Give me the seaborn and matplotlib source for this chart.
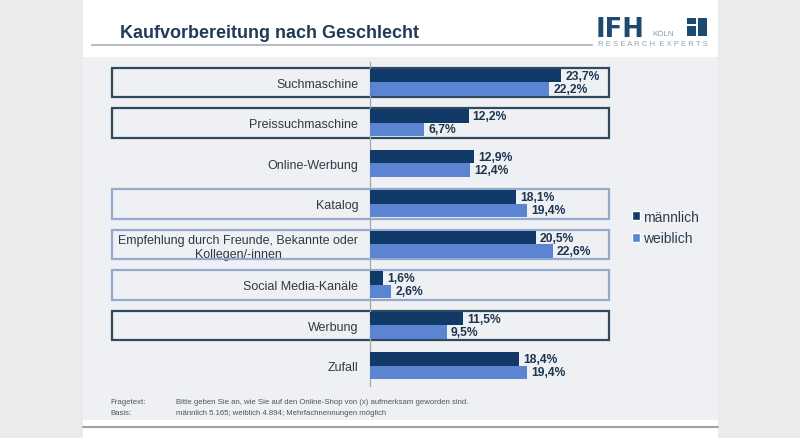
import numpy as np
import pandas as pd
import matplotlib
matplotlib.use("Agg")
import matplotlib.pyplot as plt
import seaborn as sns
from matplotlib.patches import Rectangle, Patch
from matplotlib.transforms import blended_transform_factory

categories = [
    "Suchmaschine",
    "Preissuchmaschine",
    "Online-Werbung",
    "Katalog",
    "Empfehlung durch Freunde, Bekannte oder\nKollegen/-innen",
    "Social Media-Kanäle",
    "Werbung",
    "Zufall",
]
maennlich = [23.7, 12.2, 12.9, 18.1, 20.5, 1.6, 11.5, 18.4]
weiblich = [22.2, 6.7, 12.4, 19.4, 22.6, 2.6, 9.5, 19.4]
series_names = ["männlich", "weiblich"]

# box around category row: "dark", "light" or None
box_styles = ["dark", "dark", None, "light", "light", "light", "dark", None]

W, H = 800, 439
MALE = "#113a68"
FEMALE = "#5b84d2"
TEXT = "#1c3550"
LOGO = "#1c4a70"


def fx(x):
    return x / W


def fy(y):
    return 1 - y / H


df = pd.DataFrame({
    "Kategorie": categories * 2,
    "Anteil": maennlich + weiblich,
    "Geschlecht": [series_names[0]] * len(categories) + [series_names[1]] * len(categories),
})

sns.set_style("white")
plt.rcParams["font.family"] = ["Liberation Sans", "DejaVu Sans"]

fig = plt.figure(figsize=(8, 4.39), dpi=100)
fig.patch.set_facecolor("#e9ebed")


def add_rect(x0, y0, x1, y1, color, z=-10):
    fig.patches.append(Rectangle((fx(x0), fy(y1)), fx(x1 - x0), (y1 - y0) / H,
                                 transform=fig.transFigure, facecolor=color,
                                 edgecolor="none", zorder=z))


# slide background
add_rect(83, 0, 718, 439, "white")
add_rect(83, 58, 718, 421, "#eef0f3")
fig.add_artist(plt.Line2D([fx(83), fx(718)], [fy(428), fy(428)], color="#9ea2a6", lw=1.5))
fig.add_artist(plt.Line2D([fx(92), fx(592)], [fy(45.5), fy(45.5)], color="#b9bdc1", lw=1.5))

# title + logo
fig.text(fx(120), fy(33), "Kaufvorbereitung nach Geschlecht", fontsize=13,
         fontweight="bold", color="#1f3b57", va="center", ha="left")
fig.text(fx(596), fy(37), "IFH", fontsize=18.5, fontweight="heavy", color=LOGO,
         va="baseline", ha="left", family="DejaVu Sans")
fig.text(fx(652), fy(36), "KÖLN", fontsize=5.8, color="#8a9aa8", va="baseline", ha="left")
fig.text(fx(598), fy(46.5), "R E S E A R C H   E X P E R T S".replace("   ", "  "),
         fontsize=5.6, color="#93a2b0", va="baseline", ha="left")
add_rect(687, 19, 696, 25, LOGO, z=1)
add_rect(687, 27, 696, 37, LOGO, z=1)
add_rect(698, 19, 707, 37, LOGO, z=1)

# chart
ax = fig.add_axes([fx(370), fy(387), fx(610 - 370), (387 - 63) / H])
ax.set_facecolor("none")
sns.barplot(data=df, x="Anteil", y="Kategorie", hue="Geschlecht", orient="h",
            palette=[MALE, FEMALE], width=0.66, ax=ax, legend=False,
            saturation=1, linewidth=0, zorder=3)
ax.set_xlim(0, 240 / 8.08)
ax.set_ylim(7.5, -0.5)
ax.set_xlabel("")
ax.set_ylabel("")
ax.set_xticks([])

for container in ax.containers:
    vals = [b.get_width() for b in container]
    ax.bar_label(container, labels=[f"{v:.1f}%".replace(".", ",") for v in vals],
                 padding=3, fontsize=8.7, fontweight="bold", color=TEXT)

for s in ["top", "right", "bottom"]:
    ax.spines[s].set_visible(False)
ax.spines["left"].set_color("#a3a8ad")
ax.spines["left"].set_linewidth(0.9)
ax.tick_params(axis="y", which="major", length=0, pad=8.5, labelsize=9,
               labelcolor="#2e3a46")
ax.set_yticks(np.arange(-0.5, 8, 1), minor=True)
ax.tick_params(axis="y", which="minor", length=3, color="#a3a8ad", direction="out")
for lbl in ax.get_yticklabels():
    lbl.set_multialignment("center")

# boxes around rows
trans = blended_transform_factory(fig.transFigure, ax.transData)
for i, style in enumerate(box_styles):
    if style is None:
        continue
    ec = "#2e4a5c" if style == "dark" else "#93aacd"
    ax.add_patch(Rectangle((fx(112), i - 0.355), fx(609 - 112), 0.72, transform=trans,
                           fill=False, edgecolor=ec, lw=1.6, clip_on=False, zorder=1))

handles = [Patch(facecolor=MALE, label=series_names[0]),
           Patch(facecolor=FEMALE, label=series_names[1])]
leg = fig.legend(handles=handles, loc="upper left", bbox_to_anchor=(fx(626), fy(205)),
                 frameon=False, handlelength=0.6, handleheight=0.6, handletextpad=0.2,
                 labelspacing=0.55, fontsize=10, borderaxespad=0)
for t in leg.get_texts():
    t.set_color("#2b3d4f")

# footer
foot = "#4a5560"
fig.text(fx(110), fy(403), "Fragetext:", fontsize=5.6, color=foot, va="center")
fig.text(fx(176), fy(403), "Bitte geben Sie an, wie Sie auf den Online-Shop von (x) "
         "aufmerksam geworden sind.", fontsize=5.6, color=foot, va="center")
fig.text(fx(110), fy(414), "Basis:", fontsize=5.6, color=foot, va="center")
fig.text(fx(176), fy(414), "männlich 5.165; weiblich 4.894; Mehrfachnennungen möglich",
         fontsize=5.6, color=foot, va="center")

fig.savefig("out.png", dpi=100, facecolor=fig.get_facecolor())
